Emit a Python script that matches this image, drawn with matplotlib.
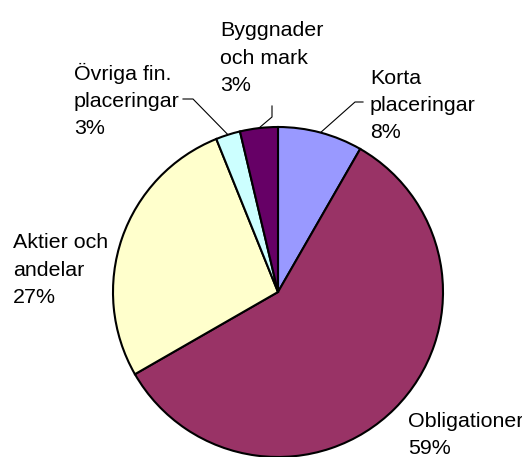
import numpy as np
import matplotlib
matplotlib.use("Agg")
import matplotlib.pyplot as plt

# data, clockwise from 12 o'clock
categories = ["Korta\nplaceringar", "Obligationer", "Aktier och\nandelar",
              "Övriga fin.\nplaceringar", "Byggnader\noch mark"]
values = [8.3, 58.4, 27.2, 2.4, 3.7]
pct_labels = ["8%", "59%", "27%", "3%", "3%"]
colors = ["#9999FF", "#993366", "#FFFFCC", "#CCFFFF", "#660066"]

W, H = 522, 457
fig = plt.figure(figsize=(W / 100, H / 100), dpi=100)
ax = fig.add_axes([0, 0, 1, 1])

cx, cy, r = 278, H - 292, 165
wedges, _ = ax.pie(values, colors=colors, startangle=90, counterclock=False,
                   center=(cx, cy), radius=r, frame=True,
                   wedgeprops=dict(edgecolor="black", linewidth=1.5))
ax.set_xlim(0, W)
ax.set_ylim(0, H)
ax.set_aspect("equal")
ax.axis("off")

font = dict(family="Liberation Sans", fontsize=15.4, color="black")

# label anchor (left x, baseline of last line, pixels from top) and leader elbow
label_pos = [(370, 138), (408, 454), (13, 303), (74, 134), (220, 91)]
elbows = [[(355, 102), (363, 102)], None, None,
          [(193, 99), (183, 99)], [(272, 117), (272, 106)]]

for i, w in enumerate(wedges):
    x, y = label_pos[i]
    ax.text(x, H - y, categories[i] + "\n" + pct_labels[i], ha="left",
            va="baseline", linespacing=1.55, **font)
    if elbows[i]:
        mid = np.deg2rad((w.theta1 + w.theta2) / 2)
        sx, sy = cx + r * np.cos(mid), cy + r * np.sin(mid)
        pts = [(sx, sy)] + [(ex, H - ey) for ex, ey in elbows[i]]
        ax.plot([p[0] for p in pts], [p[1] for p in pts], color="black",
                lw=0.8, zorder=0.5)

fig.savefig("out.png", dpi=100)
